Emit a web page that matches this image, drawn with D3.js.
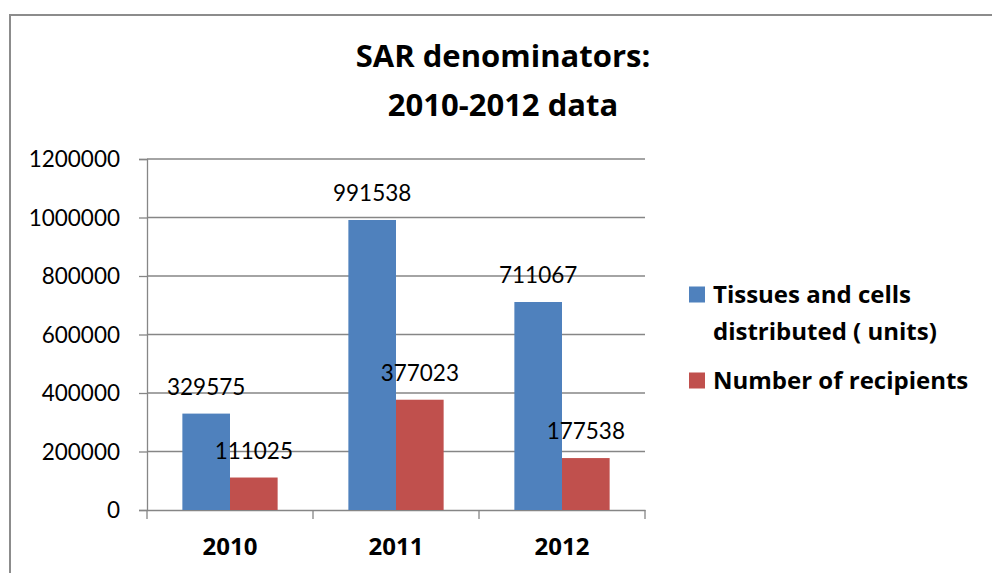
<!DOCTYPE html>
<html>
<head>
<meta charset="utf-8">
<script src="https://cdn.jsdelivr.net/npm/d3@7"></script>
<style>
  html, body { margin: 0; padding: 0; background: #fff; }
  svg { display: block; font-family: Lato, "Open Sans", sans-serif; }
</style>
</head>
<body>
<svg id="chart" width="992" height="573"></svg>
<script>
const titleLines = ["SAR denominators:", "2010-2012 data"];
const categories = ["2010", "2011", "2012"];
const seriesNames = ["Tissues and cells distributed ( units)", "Number of recipients"];
const legendLines = [["Tissues and cells", "distributed ( units)"], ["Number of recipients"]];
const tissuesValues = [329575, 991538, 711067];
const recipientsValues = [111025, 377023, 177538];
const yTicks = [0, 200000, 400000, 600000, 800000, 1000000, 1200000];
const colors = ["#4F81BD", "#C0504D"];

const boldFont = "'Open Sans', 'Noto Sans', sans-serif";
const regFont = "Lato, 'Open Sans', sans-serif";

const svg = d3.select("#chart");

// outer border (chart area frame)
svg.append("rect")
  .attr("x", 10).attr("y", 15).attr("width", 1000).attr("height", 600)
  .attr("fill", "#fff").attr("stroke", "#8c8c8c").attr("stroke-width", 2);

const plot = { left: 147, right: 645, top: 159, bottom: 510 };

const x0 = d3.scaleBand().domain(categories).range([plot.left, plot.right]).paddingInner(0).paddingOuter(0);
const x1 = d3.scaleBand().domain([0, 1]).range([0, x0.bandwidth()]).paddingInner(0).paddingOuter(0.7425);
const y = d3.scaleLinear().domain([0, 1200000]).range([plot.bottom, plot.top]);

// gridlines
svg.append("g")
  .selectAll("line").data(yTicks.filter(d => d > 0)).join("line")
  .attr("x1", plot.left).attr("x2", plot.right)
  .attr("y1", d => y(d)).attr("y2", d => y(d))
  .attr("stroke", "#868686").attr("stroke-width", 1.3);

// y axis
const yAxis = d3.axisLeft(y).tickValues(yTicks).tickSize(8).tickPadding(19).tickFormat(d3.format("d"));
const gy = svg.append("g").attr("transform", `translate(${plot.left},0)`).call(yAxis);
gy.select(".domain").attr("stroke", "#868686").attr("stroke-width", 1.3);
gy.selectAll(".tick line").attr("stroke", "#868686").attr("stroke-width", 1.3);
gy.selectAll(".tick text").attr("font-size", 22.5).attr("fill", "#000")
  .attr("font-family", regFont).attr("dy", "0.34em");

// x axis
const xAxis = d3.axisBottom(x0).tickSize(0).tickPadding(28);
const gx = svg.append("g").attr("transform", `translate(0,${plot.bottom})`).call(xAxis);
gx.select(".domain").attr("stroke", "#868686").attr("stroke-width", 1.3);
gx.selectAll(".tick text").attr("font-size", 24).attr("font-weight", "bold").attr("fill", "#000")
  .attr("font-family", boldFont);
// category boundary tick marks
const bounds = categories.map(c => x0(c)).concat([x0(categories[categories.length - 1]) + x0.bandwidth()]);
svg.append("g").selectAll("line").data(bounds).join("line")
  .attr("x1", d => d).attr("x2", d => d)
  .attr("y1", plot.bottom).attr("y2", plot.bottom + 9)
  .attr("stroke", "#868686").attr("stroke-width", 1.3);

// bars
const rows = categories.map((c, i) => ({ cat: c, vals: [tissuesValues[i], recipientsValues[i]] }));
const groups = svg.append("g").selectAll("g").data(rows).join("g")
  .attr("transform", d => `translate(${x0(d.cat)},0)`);
groups.selectAll("rect").data(d => d.vals.map((v, k) => ({ v, k }))).join("rect")
  .attr("x", d => x1(d.k)).attr("width", x1.bandwidth())
  .attr("y", d => y(d.v)).attr("height", d => y(0) - y(d.v))
  .attr("fill", d => colors[d.k]);
groups.selectAll("text").data(d => d.vals.map((v, k) => ({ v, k }))).join("text")
  .attr("x", d => x1(d.k) + x1.bandwidth() / 2)
  .attr("y", d => y(d.v) - 19)
  .attr("text-anchor", "middle")
  .attr("font-family", regFont)
  .attr("font-size", 22.5).attr("fill", "#000")
  .text(d => d.v);

// title
const title = svg.append("text").attr("text-anchor", "middle").attr("font-weight", "bold")
  .attr("font-family", boldFont).attr("font-size", 31).attr("fill", "#000");
title.selectAll("tspan").data(titleLines).join("tspan")
  .attr("x", 503).attr("y", (d, i) => 67 + i * 49).text(d => d);

// legend
const legend = svg.append("g");
const legendY = [302.5, 388.5];
legendLines.forEach((lines, i) => {
  legend.append("rect").attr("x", 689).attr("y", legendY[i] - 16).attr("width", 16).attr("height", 16)
    .attr("fill", colors[i]);
  const t = legend.append("text").attr("font-weight", "bold").attr("font-family", boldFont)
    .attr("font-size", 24).attr("fill", "#000");
  t.selectAll("tspan").data(lines).join("tspan")
    .attr("x", 713).attr("y", (d, j) => legendY[i] + j * 37.5).text(d => d);
});
</script>
</body>
</html>
